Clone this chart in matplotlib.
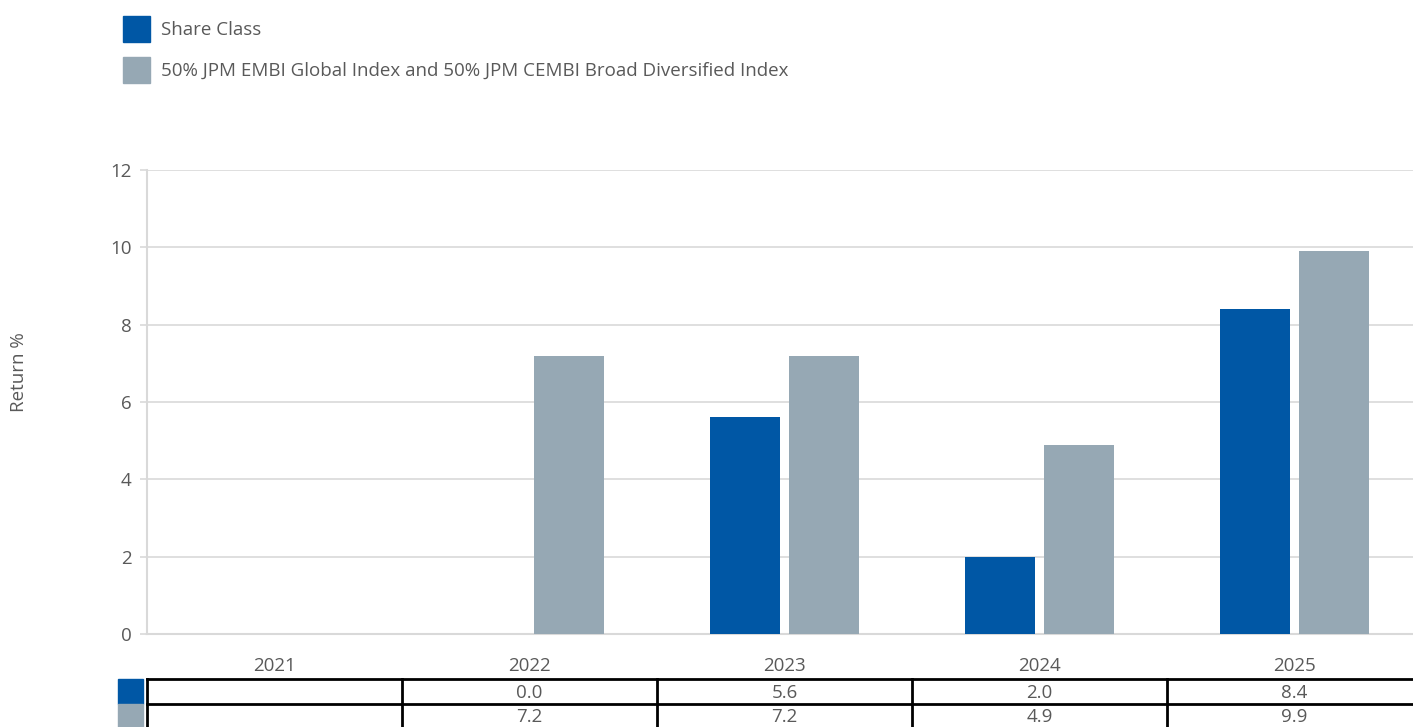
import matplotlib
matplotlib.use("Agg")
import matplotlib.pyplot as plt
import matplotlib.transforms as mtransforms
from matplotlib.patches import Rectangle
import numpy as np

plt.rcParams['font.family'] = ['Open Sans', 'DejaVu Sans']

years = ["2021", "2022", "2023", "2024", "2025"]
share_class = [None, 0.0, 5.6, 2.0, 8.4]
benchmark = [None, 7.2, 7.2, 4.9, 9.9]
series_names = ["Share Class", "50% JPM EMBI Global Index and 50% JPM CEMBI Broad Diversified Index"]
yticks = [0, 2, 4, 6, 8, 10, 12]

BLUE = "#0057A5"
GREY = "#96A8B4"
TXT = "#595959"
GRID = "#D9D9D9"
FS = 13.5

W, H = 1413, 727
fig = plt.figure(figsize=(W / 100, H / 100), dpi=100)

def fx(px):
    return px / W

def fy(py):
    return 1 - py / H

ax_left, ax_right, ax_top, ax_bot = 147, 1422, 170, 634
ax = fig.add_axes([fx(ax_left), fy(ax_bot), fx(ax_right - ax_left), (ax_bot - ax_top) / H])

x = np.arange(len(years))
bw = 0.278
off = 0.155
sc = [np.nan if v is None else v for v in share_class]
bm = [np.nan if v is None else v for v in benchmark]
ax.bar(x - off, sc, bw, color=BLUE, zorder=3)
ax.bar(x + off, bm, bw, color=GREY, zorder=3)

ax.set_xlim(-0.5, len(years) - 0.5)
ax.set_ylim(0, 12)
ax.set_yticks(yticks)
ax.set_yticklabels([str(t) for t in yticks], color=TXT, fontsize=FS)
ax.set_xticks(x)
ax.set_xticklabels(years, color=TXT, fontsize=FS)
ax.tick_params(axis='x', length=0, pad=16.5)
ax.tick_params(axis='y', length=5, color=GRID, width=1.2, pad=6)
ax.grid(axis='y', color=GRID, linewidth=1.2, zorder=0)
for s in ['top', 'right']:
    ax.spines[s].set_visible(False)
for s in ['left', 'bottom']:
    ax.spines[s].set_color(GRID)
    ax.spines[s].set_linewidth(1.5)

fig.text(fx(19), fy(372), "Return %", rotation=90, ha='center', va='center',
         color=TXT, fontsize=FS)

# Legend
leg_rows = [(29, BLUE), (70, GREY)]
for (cy, col), name in zip(leg_rows, series_names):
    fig.patches.append(Rectangle((fx(123), fy(cy + 13)), fx(27), 26 / H,
                                 transform=fig.transFigure, color=col))
    fig.text(fx(161), fy(cy + 1), name, ha='left', va='center', color=TXT, fontsize=FS)

# Data table below axis
trans = mtransforms.blended_transform_factory(ax.transData, fig.transFigure)
row_tops = [679, 704]
row_h = 25
rows = [share_class, benchmark]
colors = [BLUE, GREY]
lw = 2
for r, (vals, col) in enumerate(zip(rows, colors)):
    top = row_tops[r]
    fig.patches.append(Rectangle((fx(118), fy(top + row_h)), fx(25), row_h / H,
                                 transform=fig.transFigure, color=col))
    for i, v in enumerate(vals):
        if v is not None:
            fig.text(x[i], fy(top + row_h / 2 + 1), f"{v:.1f}", transform=trans,
                     ha='center', va='center', color=TXT, fontsize=FS)
# horizontal lines
for py in [679, 704, 729]:
    fig.add_artist(plt.Line2D([-0.5, len(years) - 0.5], [fy(py), fy(py)], transform=trans,
                              color='black', linewidth=lw, clip_on=False))
for b in np.arange(-0.5, len(years), 1.0):
    fig.add_artist(plt.Line2D([b, b], [fy(679), fy(729)], transform=trans,
                              color='black', linewidth=lw, clip_on=False))

fig.savefig("out.png", dpi=100)
